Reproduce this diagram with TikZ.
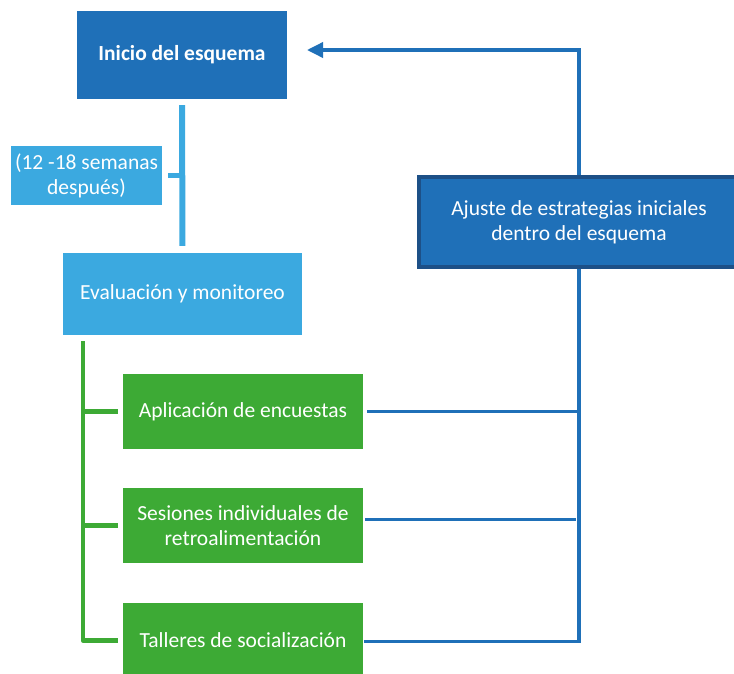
\documentclass[tikz,border=0pt]{standalone}
\usepackage{fontspec}
\setmainfont{Carlito}
\usetikzlibrary{arrows.meta,backgrounds}
\definecolor{dblue}{HTML}{1F70B8}
\definecolor{dborder}{HTML}{1D5087}
\definecolor{lblue}{HTML}{3BA9E0}
\definecolor{dgreen}{HTML}{3DAA35}
\tikzset{
  box/.style={rectangle, inner sep=0pt, align=center, text=white, font=\fontsize{21.5}{25}\selectfont},
  darkbox/.style={box, fill=dblue},
  lightbox/.style={box, fill=lblue},
  greenbox/.style={box, fill=dgreen, minimum width=240pt, minimum height=75pt},
  lbline/.style={draw=lblue, line width=6pt},
  gline/.style={draw=dgreen, line width=4.5pt},
  bline/.style={draw=dblue, line width=3.5pt},
}
\begin{document}
\begin{tikzpicture}[x=1pt,y=-1pt]
\useasboundingbox (0,0) rectangle (734,673);
\clip (0,0) rectangle (734,673);
% nodes
\node[darkbox, minimum width=210pt, minimum height=88pt, font=\fontsize{21.5}{25}\selectfont\bfseries] (inicio) at (182,55) {Inicio del esquema};
\node[lightbox, minimum width=151pt, minimum height=59pt] (semanas) at (86.5,175.5) {(12 -18 semanas\\después)};
\node[lightbox, minimum width=239pt, minimum height=82pt] (eval) at (182.5,294) {Evaluación y monitoreo};
\node[darkbox, draw=dborder, line width=4pt, minimum width=320pt, minimum height=90pt] (ajuste) at (579,222) {Ajuste de estrategias iniciales\\dentro del esquema};
\node[greenbox] (g1) at (243,411.5) {Aplicación de encuestas};
\node[greenbox] (g2) at (243,525.5) {Sesiones individuales de\\retroalimentación};
\node[greenbox] (g3) at (243,640.5) {Talleres de socialización};
\coordinate (gtop) at (83,341);
\coordinate (corner) at (579,50);
\coordinate (tip) at (307,50);
\begin{scope}[on background layer]
\fill[white] (0,0) rectangle (734,673);
% light blue connectors
\draw[lbline, shorten <=6pt, shorten >=7pt] (inicio.south) -- (eval.north);
\draw[lbline, line width=5pt, shorten <=6pt] (semanas.east) -- (semanas.east -| inicio.south);
% green tree
\draw[gline, line join=round] (gtop) |- ([xshift=-5pt]g3.west);
\draw[gline] (gtop |- g1.west) -- ([xshift=-5pt]g1.west);
\draw[gline] (gtop |- g2.west) -- ([xshift=-5pt]g2.west);
% blue feedback
\draw[bline] ([xshift=4pt]g1.east) -- (g1.east -| corner);
\draw[bline] ([xshift=2pt,yshift=6pt]g2.east) -- ([xshift=-3pt,yshift=6pt]g2.east -| corner);
\draw[bline, line join=miter, -{Triangle[length=16pt,width=15pt]}] ([xshift=1pt,yshift=-1pt]g3.east) -- ([yshift=-1pt]g3.east -| corner) -- (corner) -- (tip);
\end{scope}
\end{tikzpicture}
\end{document}
